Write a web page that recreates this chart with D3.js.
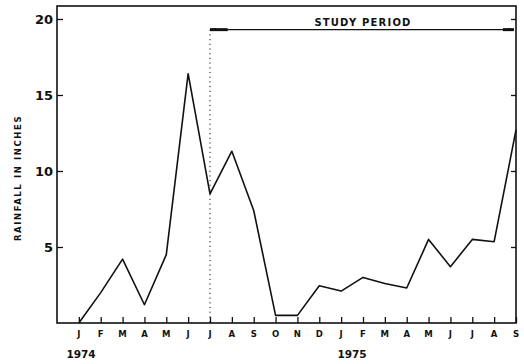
<!DOCTYPE html>
<html>
<head>
<meta charset="utf-8">
<script src="https://d3js.org/d3.v7.min.js"></script>
<style>
  body { margin: 0; background: #fff; }
  text { font-family: "DejaVu Sans", sans-serif; font-weight: bold; fill: #111; }
</style>
</head>
<body>
<svg id="chart" width="524" height="364"></svg>
<script>
// --- data ---
const months = ["J","F","M","A","M","J","J","A","S","O","N","D",
                "J","F","M","A","M","J","J","A","S"];
const rainfall = [0, 2.0, 4.2, 1.2, 4.5, 16.4, 8.5, 11.3, 7.4, 0.5, 0.5, 2.45,
                  2.1, 3.0, 2.6, 2.3, 5.5, 3.7, 5.5, 5.35, 12.7];
const yTicks = [5, 10, 15, 20];
const years = [{label: "1974", at: 0.1}, {label: "1975", at: 12.5}];
const studyPeriod = {from: 6, to: 20, level: 19.3, label: "STUDY PERIOD"};

const svg = d3.select("#chart");
const plotL = 57, plotR = 516, plotT = 6, plotB = 323;

const x = d3.scaleLinear().domain([-1, months.length - 1]).range([plotL, plotR]);
const y = d3.scaleLinear().domain([0, 20]).range([plotB, 19]);

// frame
svg.append("rect")
    .attr("x", plotL).attr("y", plotT)
    .attr("width", plotR - plotL).attr("height", plotB - plotT)
    .attr("fill", "none").attr("stroke", "#111").attr("stroke-width", 1.6);

// left axis, ticks pointing inward
const yAxis = svg.append("g")
    .attr("transform", `translate(${plotL},0)`)
    .call(d3.axisRight(y).tickValues(yTicks).tickSize(6).tickFormat(""));
yAxis.select(".domain").remove();
yAxis.selectAll("line").attr("stroke", "#111").attr("stroke-width", 1.3);

svg.selectAll(".ylab")
    .data(yTicks)
    .enter()
    .append("text")
    .attr("class", "ylab")
    .attr("x", plotL - 4)
    .attr("y", d => y(d) + 5)
    .attr("text-anchor", "end")
    .attr("font-size", 13)
    .text(d => d);

// right axis ticks
const yAxisR = svg.append("g")
    .attr("transform", `translate(${plotR},0)`)
    .call(d3.axisLeft(y).tickValues(yTicks).tickSize(5).tickFormat(""));
yAxisR.select(".domain").remove();
yAxisR.selectAll("line").attr("stroke", "#111").attr("stroke-width", 1.3);

// bottom axis, ticks pointing up
const xAxis = svg.append("g")
    .attr("transform", `translate(0,${plotB})`)
    .call(d3.axisTop(x).tickValues(d3.range(months.length)).tickSize(6).tickFormat(""));
xAxis.select(".domain").remove();
xAxis.selectAll("line").attr("stroke", "#111").attr("stroke-width", 1.3);

svg.selectAll(".mlab")
    .data(months)
    .enter()
    .append("text")
    .attr("class", "mlab")
    .attr("x", (d, i) => x(i))
    .attr("y", plotB + 14)
    .attr("text-anchor", "middle")
    .attr("font-size", 8.5)
    .text(d => d);

svg.selectAll(".year")
    .data(years)
    .enter()
    .append("text")
    .attr("class", "year")
    .attr("x", d => x(d.at))
    .attr("y", 358)
    .attr("text-anchor", "middle")
    .attr("font-size", 10.5)
    .text(d => d.label);

// axis title
svg.append("text")
    .attr("transform", "translate(21,178) rotate(-90)")
    .attr("text-anchor", "middle")
    .attr("font-size", 8.5)
    .attr("letter-spacing", 1.6)
    .text("RAINFALL  IN  INCHES");

// study period marker
svg.append("line")
    .attr("x1", x(studyPeriod.from)).attr("x2", x(studyPeriod.from))
    .attr("y1", y(studyPeriod.level)).attr("y2", plotB)
    .attr("stroke", "#111").attr("stroke-width", 1)
    .attr("stroke-dasharray", "1.2,3.5");

svg.append("defs").append("marker")
    .attr("id", "head")
    .attr("viewBox", "0 0 10 6")
    .attr("refX", 10).attr("refY", 3)
    .attr("markerWidth", 8).attr("markerHeight", 3.5)
    .attr("markerUnits", "userSpaceOnUse")
    .attr("orient", "auto-start-reverse")
    .append("path")
    .attr("d", "M0,0 L10,3 L0,6 Z")
    .attr("fill", "#111");

svg.append("line")
    .attr("x1", x(studyPeriod.from)).attr("x2", x(studyPeriod.to) - 2)
    .attr("y1", y(studyPeriod.level)).attr("y2", y(studyPeriod.level))
    .attr("stroke", "#111").attr("stroke-width", 1.4)
    .attr("marker-start", "url(#head)")
    .attr("marker-end", "url(#head)");

// thick bits near the arrow heads
[[studyPeriod.from, studyPeriod.from + 0.9], [studyPeriod.to - 0.6, studyPeriod.to]].forEach(s => {
  svg.append("line")
      .attr("x1", x(s[0])).attr("x2", x(s[1]) - 2)
      .attr("y1", y(studyPeriod.level)).attr("y2", y(studyPeriod.level))
      .attr("stroke", "#111").attr("stroke-width", 3);
});

svg.append("text")
    .attr("x", x((studyPeriod.from + studyPeriod.to) / 2))
    .attr("y", y(studyPeriod.level) - 4)
    .attr("text-anchor", "middle")
    .attr("font-size", 10)
    .attr("letter-spacing", 1.2)
    .text(studyPeriod.label);

// rainfall line
const line = d3.line()
    .x((d, i) => x(i))
    .y(d => y(d));

svg.append("path")
    .datum(rainfall)
    .attr("d", line)
    .attr("fill", "none")
    .attr("stroke", "#111")
    .attr("stroke-width", 1.6)
    .attr("stroke-linejoin", "round");
</script>
</body>
</html>
